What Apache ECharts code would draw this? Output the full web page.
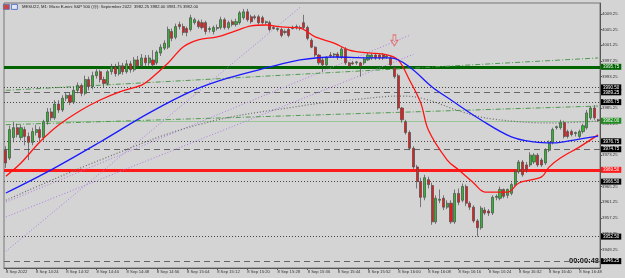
<!DOCTYPE html>
<html><head><meta charset="utf-8">
<script src="https://cdn.jsdelivr.net/npm/echarts@6/dist/echarts.min.js"></script>
<style>html,body{margin:0;padding:0;background:#d4d4d4}#c{width:625px;height:278px}</style>
</head><body><div id="c"></div>
<script>
const categories = ("14:16 14:17 14:18 14:19 14:20 14:21 14:22 14:23 14:24 14:25 14:26 14:27 14:28 14:29 14:30 14:31 14:32 14:33 14:34 14:35 14:36 14:37 14:38 14:39 14:40 14:41 14:42 14:43 14:44 14:45 14:46 14:47 14:48 14:49 14:50 14:51 14:52 14:53 14:54 14:55 14:56 14:57 14:58 14:59 " +
"15:00 15:01 15:02 15:03 15:04 15:05 15:06 15:07 15:08 15:09 15:10 15:11 15:12 15:13 15:14 15:15 15:16 15:17 15:18 15:19 15:20 15:21 15:22 15:23 15:24 15:25 15:26 15:27 15:28 15:29 15:30 15:31 15:32 15:33 15:34 15:35 15:36 15:37 15:38 15:39 15:40 15:41 15:42 15:43 15:44 15:45 15:46 15:47 15:48 15:49 15:50 15:51 15:52 15:53 15:54 15:55 15:56 15:57 15:58 15:59 " +
"16:00 16:01 16:02 16:03 16:04 16:05 16:06 16:07 16:08 16:09 16:10 16:11 16:12 16:13 16:14 16:15 16:16 16:17 16:18 16:19 16:20 16:21 16:22 16:23 16:24 16:25 16:26 16:27 16:28 16:29 16:30 16:31 16:32 16:33 16:34 16:35 16:36 16:37 16:38 16:39 16:40 16:41 16:42 16:43 16:44 16:45 16:46 16:47 16:48 16:49 16:50 16:51 16:52 16:53").split(' ');

const tickLabels = ['8 Sep 2022','8 Sep 14:24','8 Sep 14:32','8 Sep 14:40','8 Sep 14:48','8 Sep 14:56','8 Sep 15:04','8 Sep 15:12','8 Sep 15:20','8 Sep 15:28','8 Sep 15:36','8 Sep 15:44','8 Sep 15:52','8 Sep 16:00','8 Sep 16:08','8 Sep 16:16','8 Sep 16:24','8 Sep 16:32','8 Sep 16:40','8 Sep 16:48'];

const priceTicks = [3949.25,3953.25,3957.25,3961.25,3965.25,3969.25,3973.25,3977.25,3981.25,3985.25,3989.25,3993.25,3997.25,4001.25,4005.25,4009.25];

// [open, close, low, high]
const candles = [
[3974.5,3971.25,3970.0,3975.5],[3972.5,3979.75,3972.0,3980.75],[3977.75,3980.25,3976.5,3981.75],[3980.25,3978.5,3977.75,3981.25],
[3977.75,3980.25,3977.0,3981.0],[3979.75,3978.0,3975.75,3980.5],[3978.0,3976.5,3972.0,3979.0],[3976.5,3979.25,3975.75,3980.25],
[3979.0,3979.75,3978.25,3981.0],[3979.75,3977.75,3976.75,3980.5],[3977.75,3981.75,3977.0,3982.25],[3981.75,3984.25,3981.0,3985.25],
[3984.25,3982.75,3982.0,3985.25],[3982.75,3986.25,3982.25,3987.25],[3986.25,3984.75,3984.0,3987.25],[3984.75,3987.75,3984.25,3988.5],
[3987.75,3988.5,3987.0,3989.25],[3988.5,3986.75,3986.0,3989.25],[3986.75,3989.75,3986.25,3990.75],[3989.75,3991.0,3989.0,3991.75],
[3991.0,3989.0,3988.25,3991.5],[3989.0,3992.5,3988.5,3993.5],[3992.5,3990.75,3989.75,3993.25],[3990.75,3993.5,3990.0,3994.5],
[3993.5,3994.5,3992.75,3995.5],[3994.5,3992.5,3991.75,3995.0],[3992.5,3991.5,3990.5,3993.25],[3991.5,3994.5,3991.0,3995.0],
[3994.5,3995.75,3993.75,3996.5],[3995.75,3994.0,3993.25,3996.5],[3994.0,3996.0,3993.5,3997.0],[3996.0,3994.5,3993.75,3996.75],
[3994.5,3996.5,3994.0,3997.5],[3996.5,3995.0,3994.25,3997.25],[3995.0,3997.5,3994.5,3998.25],[3997.5,3996.0,3995.25,3998.5],
[3996.0,3998.0,3995.5,3999.0],[3998.0,3996.75,3996.0,3998.75],[3996.75,3998.0,3996.0,3998.75],[3997.5,3996.25,3995.0,4000.0],
[3996.75,3999.5,3996.25,4000.0],[3999.25,4000.75,3998.5,4001.5],[4000.5,4001.75,4000.0,4002.5],[4000.75,4005.25,4000.25,4006.0],
[4004.75,4003.0,4002.25,4005.5],[4003.25,4006.0,4002.75,4006.75],[4006.5,4006.0,4005.25,4007.25],[4006.0,4004.5,4003.75,4006.75],
[4005.5,4004.5,4003.5,4006.0],[4005.25,4008.25,4004.75,4009.0],[4007.0,4007.75,4006.5,4008.25],[4007.25,4006.0,4005.5,4007.75],
[4007.0,4005.75,4005.25,4007.75],[4007.0,4004.75,4004.0,4007.5],[4005.25,4005.5,4004.5,4006.0],[4004.75,4005.75,4004.0,4006.25],
[4005.5,4005.75,4005.0,4006.5],[4005.75,4007.75,4005.25,4008.5],[4007.75,4005.75,4005.25,4008.25],[4005.75,4007.0,4005.25,4007.5],
[4007.25,4006.5,4006.0,4007.75],[4006.5,4007.25,4006.0,4008.0],[4007.0,4009.5,4006.5,4010.0],[4008.25,4009.75,4007.75,4010.5],
[4009.75,4007.75,4007.25,4010.5],[4008.5,4007.25,4006.75,4009.0],[4008.5,4008.25,4007.75,4009.0],[4008.5,4007.0,4006.5,4009.0],
[4008.25,4007.0,4006.5,4008.75],[4007.0,4007.25,4006.5,4007.5],[4007.0,4005.25,4004.75,4007.5],[4005.75,4005.5,4005.25,4006.25],
[4005.25,4005.5,4004.75,4005.75],[4005.25,4003.75,4003.25,4005.75],[4004.75,4004.5,4004.0,4005.25],[4005.25,4003.75,4003.25,4005.75],
[4005.75,4005.5,4005.25,4006.25],[4005.75,4006.0,4005.25,4006.5],[4005.75,4005.5,4005.0,4006.25],[4007.0,4005.75,4005.25,4009.0],
[4005.75,4003.0,4002.5,4006.25],[4002.5,4000.75,4000.5,4003.0],[4000.75,3998.75,3998.25,4001.0],[3998.75,3996.75,3996.25,3999.0],
[3997.5,3996.25,3994.5,3998.0],[3996.25,3998.0,3995.5,3998.5],[3998.75,3998.5,3998.25,3999.5],[3998.75,3999.0,3998.0,3999.25],
[3999.0,3998.25,3997.5,3999.5],[3998.25,4000.25,3997.75,4000.75],[4000.25,3996.75,3996.25,4000.75],[3996.75,3996.0,3995.5,3997.0],
[3996.75,3996.5,3996.25,3997.25],[3996.75,3997.0,3996.25,3997.25],[3996.75,3996.0,3993.25,3997.0],[3996.75,3997.75,3996.25,3998.25],
[3997.5,3998.75,3997.25,3999.25],[3998.0,3998.75,3997.5,3999.25],[3998.75,3998.0,3997.5,3999.25],[3998.75,3998.0,3997.5,3999.0],
[3998.75,3998.0,3997.5,3999.25],[3998.25,3998.5,3997.75,3998.75],[3998.0,3996.25,3995.75,3998.5],[3995.5,3993.25,3992.75,3996.0],
[3993.5,3985.25,3984.75,3994.0],[3985.25,3982.25,3981.5,3985.5],[3981.75,3979.0,3978.5,3982.25],[3979.0,3975.0,3974.5,3979.5],
[3975.0,3970.25,3969.75,3975.5],[3970.25,3966.5,3964.75,3970.75],[3966.5,3962.5,3960.0,3967.5],[3962.5,3967.5,3961.75,3968.25],
[3967.0,3965.75,3964.75,3967.75],[3965.5,3956.25,3955.5,3966.25],[3956.25,3962.25,3955.75,3963.0],[3961.75,3962.0,3961.0,3964.5],
[3962.25,3960.0,3959.25,3963.0],[3960.0,3961.0,3959.5,3961.75],[3961.0,3956.25,3955.75,3961.75],[3956.25,3963.5,3955.75,3964.5],
[3963.5,3961.25,3960.5,3964.75],[3961.75,3965.25,3961.25,3966.0],[3965.25,3961.0,3960.25,3965.75],[3961.0,3960.0,3959.25,3961.5],
[3960.0,3956.5,3956.0,3960.5],[3956.5,3954.75,3952.5,3957.0],[3954.75,3959.75,3954.25,3960.25],[3959.25,3958.5,3958.0,3960.0],
[3959.0,3958.5,3957.75,3959.5],[3958.5,3962.5,3958.0,3963.0],[3962.5,3962.75,3961.75,3963.25],[3962.25,3964.5,3961.75,3965.25],
[3964.5,3962.75,3962.25,3964.75],[3963.0,3964.5,3962.25,3964.75],[3963.5,3965.75,3963.0,3966.25],[3965.75,3969.0,3965.25,3969.5],
[3969.0,3971.5,3968.5,3972.0],[3971.5,3968.25,3967.75,3972.0],[3970.75,3969.5,3968.75,3971.5],[3970.75,3973.25,3970.25,3974.0],
[3971.5,3973.25,3971.0,3973.75],[3973.25,3970.75,3970.25,3973.75],[3972.0,3970.75,3970.25,3972.5],[3971.25,3974.5,3970.75,3975.0],
[3974.5,3976.5,3974.0,3977.0],[3976.5,3979.75,3976.0,3980.25],[3980.25,3980.5,3979.75,3980.75],[3980.25,3981.5,3979.75,3982.25],
[3981.5,3978.0,3977.5,3982.0],[3979.25,3978.0,3977.5,3979.75],[3979.25,3978.5,3978.0,3979.75],[3978.75,3979.0,3978.0,3979.25],
[3978.0,3979.25,3977.5,3979.75],[3979.25,3980.75,3978.75,3981.25],[3980.25,3984.0,3979.75,3984.75],[3982.75,3985.25,3982.25,3985.75],
[3985.25,3982.75,3982.25,3986.0],[3982.25,3982.0,3981.75,3982.5]
];

const redMA = [[0,3967.9],[4,3971.25],[9,3976.6],[14,3980.9],[20,3984.75],[25,3987.3],[30,3989.3],[36,3991.1],[38,3992.4],[43,3996.7],[47,4000.8],[51,4002.6],[56,4003.35],[60,4004.6],[65,4006.15],[69,4006.4],[73,4005.9],[78,4005.6],[82,4003.35],[87,4001.8],[91,4000.0],[96,3999.3],[101,3998.8],[104,3997.5],[107,3992.4],[110,3986.5],[112,3979.65],[117,3972.0],[120,3969.5],[124,3966.15],[127,3963.85],[133,3963.85],[136,3966.15],[142,3967.7],[144,3970.2],[147,3972.5],[152,3975.3],[157,3978.4]];
const blueMA = [[0,3963.6],[12,3969.5],[25,3976.6],[38,3984.0],[50,3989.85],[59,3992.9],[69,3995.45],[78,3997.5],[87,3998.25],[96,3998.0],[102,3998.0],[107,3995.7],[113,3990.6],[118,3987.3],[126,3982.2],[134,3977.9],[140,3976.6],[145,3976.35],[152,3977.35],[157,3978.1]];
const grayMA = [[0,3961.75],[25,3972.0],[51,3981.0],[78,3985.75],[94,3987.55],[105,3988.3],[111,3987.55],[121,3984.25],[129,3982.45],[145,3981.45],[157,3981.95]];

const purpleTrend1 = [[0,3948.75],[78,4010.9]];
const purpleTrend2 = [[0,3961.25],[107,4003.75]];
const purpleTrend3 = [[0,3957.5],[108,3998.9]];
const greenTrend1 = [[0,3989.75],[157,3998.0]];
const greenTrend2 = [[0,3981.0],[157,3985.75]];

const levels = [3995.75,3990.5,3989.25,3986.75,3982.0,3976.75,3974.75,3969.5,3966.5,3952.5,3946.25];
const levelKinds = ['green','dot','dash','dot','bid','dot','dash','red','dot','dot','dash'];
const arrowPoint = [[103,4002.5]];

const kindStyle = {
  green:{line:{color:'#006400',width:3,type:'solid'},box:'#006400'},
  red:{line:{color:'#ff1a1a',width:3,type:'solid'},box:'#ff1a1a'},
  bid:{line:{color:'#98c498',width:1,type:'solid'},box:'#1f8a1f'},
  dot:{line:{color:'#444',width:1,type:[1,2]},box:'#000'},
  dash:{line:{color:'#666',width:1,type:[6,4]},box:'#000'}
};

const markData = levels.map((v,i)=>{
  const k = kindStyle[levelKinds[i]];
  return {yAxis:v, lineStyle:k.line,
    label:{show:true,position:'end',distance:1,formatter:v.toFixed(2),backgroundColor:k.box,color:'#fff',fontSize:4.5,padding:[1,2,0,2],fontFamily:'Liberation Sans'}};
});

const chart = echarts.init(document.getElementById('c'), null, {renderer:'canvas'});
function lineSeries(data,color,width,type,smooth,z){
  return {type:'line',data:data,symbol:'none',smooth:smooth,z:z,silent:true,
    lineStyle:{color:color,width:width,type:type},animation:false};
}
chart.setOption({
  animation:false,
  backgroundColor:'#d4d4d4',
  grid:{left:4,right:25,top:3,bottom:10,show:true,borderColor:'#777',borderWidth:1,backgroundColor:'#d4d4d4'},
  xAxis:{type:'category',data:categories,boundaryGap:true,
    axisLine:{lineStyle:{color:'#555',width:1}},
    axisTick:{show:true,interval:7,alignWithLabel:true,length:2,lineStyle:{color:'#555'}},
    axisLabel:{interval:7,fontSize:4.2,color:'#333',align:'left',margin:2,fontFamily:'Liberation Sans',
      formatter:(v,idx)=>tickLabels[Math.round(idx/8)]},
    splitLine:{show:false}},
  yAxis:{type:'value',position:'right',min:3944.5,max:4012.0,scale:true,
    axisLine:{show:true,lineStyle:{color:'#555',width:1}},
    axisTick:{show:true,length:2,customValues:priceTicks,lineStyle:{color:'#555'}},
    axisLabel:{customValues:priceTicks,fontSize:4.3,color:'#333',margin:2,fontFamily:'Liberation Sans',formatter:v=>v.toFixed(2)},
    splitLine:{show:false}},
  graphic:[
    {type:'rect',left:3,top:4,shape:{width:6,height:5},style:{fill:'#c84848',stroke:'#6070b0',lineWidth:0.8}},
    {type:'rect',left:11,top:4,shape:{width:6,height:5},style:{fill:'#dfe6f5',stroke:'#4060c0',lineWidth:0.8}},
    {type:'text',left:22,top:5,style:{text:'MESU22, M1: Micro E-mini S&P 500 (@): September 2022  3982.25 3982.00 3981.75 3982.00',fontSize:4.2,fill:'#222',fontFamily:'Liberation Sans'}},
    {type:'text',right:26,top:257,style:{text:'00:00:48',fontSize:7.5,fontWeight:'bold',fill:'#111',fontFamily:'Liberation Sans'}}
  ],
  series:[
    lineSeries(purpleTrend1,'#b07ae6',1,[1,2],false,2),
    lineSeries(purpleTrend2,'#b07ae6',1,[1,2],false,2),
    lineSeries(purpleTrend3,'#b07ae6',1,[1,2],false,2),
    lineSeries(greenTrend1,'#4f9a4f',1,[5,2,1,2],false,2),
    lineSeries(greenTrend2,'#4f9a4f',1,[5,2,1,2],false,2),
    lineSeries(grayMA,'#6a6a6a',1.2,[1,2],0.4,3),
    {type:'candlestick',data:candles,barWidth:2.6,z:4,silent:true,
      itemStyle:{color:'#2eb82e',color0:'#e81c1c',borderColor:'#4a4a4a',borderColor0:'#4a4a4a',borderWidth:0.7},
      markLine:{silent:true,symbol:['none','none'],animation:false,data:markData,z:1}},
    lineSeries(redMA,'#ff1414',1.3,'solid',0.35,5),
    lineSeries(blueMA,'#1a1aff',1.3,'solid',0.35,5),
    {type:'scatter',data:arrowPoint,z:6,silent:true,symbol:'path://M3,0 L7,0 L7,6 L10,6 L5,12 L0,6 L3,6 Z',symbolSize:[7,11],
      itemStyle:{color:'rgba(0,0,0,0)',borderColor:'#e85a5a',borderWidth:1}}
  ]
});
</script></body></html>
